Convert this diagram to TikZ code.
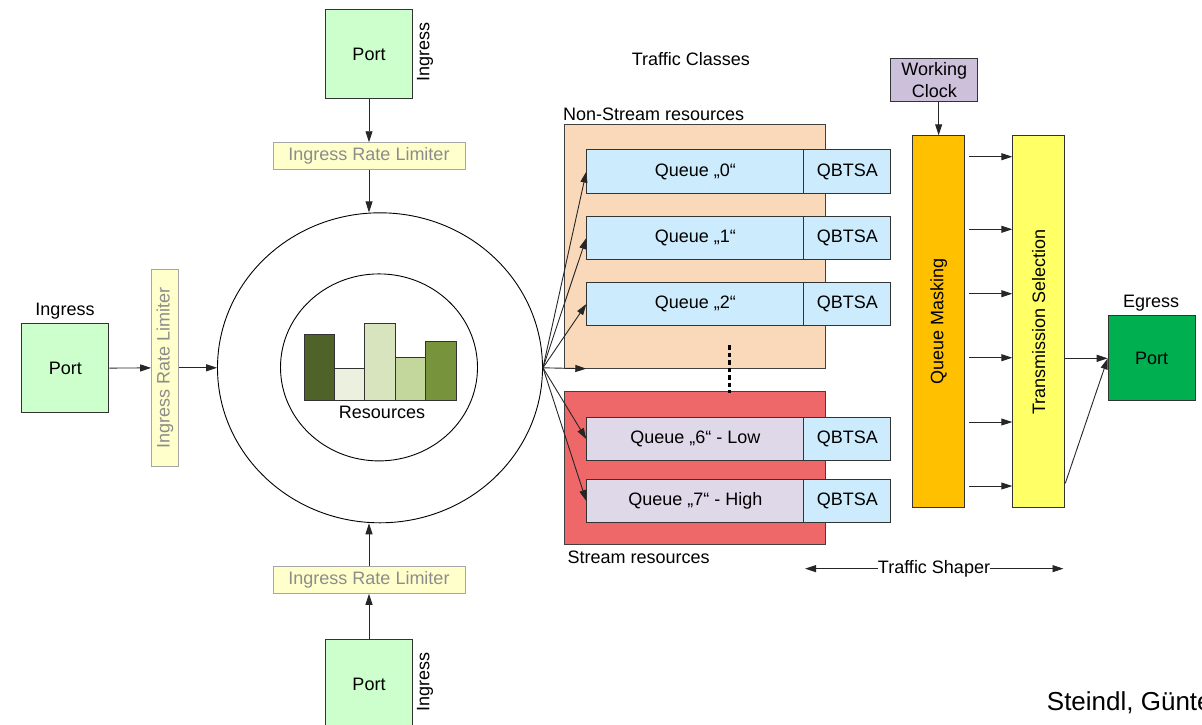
\documentclass[tikz,border=0pt]{standalone}
\usepackage{fontspec}
\setmainfont{Liberation Sans}
\usetikzlibrary{arrows.meta,shapes.geometric,calc}
\definecolor{portgreen}{HTML}{CCFFCC}
\definecolor{egreen}{HTML}{00B050}
\definecolor{limfill}{HTML}{FFFFCC}
\definecolor{limborder}{HTML}{A6A6A6}
\definecolor{limtext}{HTML}{8C8C8C}
\definecolor{nsfill}{HTML}{FAD8BA}
\definecolor{sfill}{HTML}{EF6869}
\definecolor{qblue}{HTML}{CCECFD}
\definecolor{qlav}{HTML}{DED8E8}
\definecolor{clockfill}{HTML}{CCC0DA}
\definecolor{qmfill}{HTML}{FFC000}
\definecolor{tsfill}{HTML}{FFFF66}
\definecolor{barA}{HTML}{4F6228}
\definecolor{barB}{HTML}{EBF1DE}
\definecolor{barC}{HTML}{D7E4BD}
\definecolor{barD}{HTML}{C3D69B}
\definecolor{barE}{HTML}{77933C}
\begin{document}
\begin{tikzpicture}[x=1pt,y=-1pt,
  every node/.style={font=\fontsize{18}{22}\selectfont, inner sep=0pt},
  box/.style={draw=black!80, line width=1pt, anchor=north west, align=center},
  portbox/.style={box, fill=portgreen, minimum width=87pt, minimum height=89pt},
  limbox/.style={draw=limborder, fill=limfill, text=limtext, line width=1pt},
  queuebox/.style={box, fill=qblue, minimum width=217pt, minimum height=43.7pt},
  qbtsabox/.style={box, fill=qblue, minimum width=87pt, minimum height=43.7pt},
  conn/.style={draw=black!85, line width=0.9pt, -{Triangle[length=11pt,width=7pt]}},
  barbox/.style={draw=black!80, line width=0.9pt},
]
\useasboundingbox (0,0) rectangle (1202,724);
\clip (0,0) rectangle (1202,724);

% ---- ports & limiters ----
\node[portbox] (pTop) at (325,9) {Port};
\node (ingTop) at (425,52) {\rotatebox{90}{Ingress}};
\node[limbox, minimum width=192pt, minimum height=26.5pt] (lTop) at (369,156) {Ingress Rate Limiter};

\node[portbox] (pBot) at (325,639) {Port};
\node (ingBot) at (425,682) {\rotatebox{90}{Ingress}};
\node[limbox, minimum width=192pt, minimum height=26.5pt] (lBot) at (369,580) {Ingress Rate Limiter};

\node[portbox] (pLeft) at (21.3,323.3) {Port};
\node[anchor=base] (ingLeft) at (65,315) {Ingress};
\node[limbox, minimum width=26.7pt, minimum height=197pt] (lLeft) at (165,367.8) {\rotatebox{90}{Ingress Rate Limiter}};

% ---- resources circle ----
\node[draw=black, ellipse, line width=0.9pt, minimum width=325pt, minimum height=310pt] (outer) at (380,367.8) {};
\node[draw=black, ellipse, line width=0.9pt, minimum width=197pt, minimum height=187pt] (inner) at (379,367.4) {};
\draw[barbox, fill=barA] (304,334.3) rectangle (334.3,400.7);
\draw[barbox, fill=barB] (334.3,368) rectangle (364.7,400.7);
\draw[barbox, fill=barC] (364.7,323.7) rectangle (395.3,400.7);
\draw[barbox, fill=barD] (395.3,357) rectangle (425.3,400.7);
\draw[barbox, fill=barE] (425.3,341.7) rectangle (456,400.7);
\node (res) at (382,412) {Resources};

% ---- traffic classes ----
\node[anchor=base] (tc) at (690.8,65) {Traffic Classes};
\node[box, fill=nsfill, draw=black!75, minimum width=261pt, minimum height=243.4pt] (ns) at (564.3,124.3) {};
\node[anchor=base west] (nsl) at (563,120) {Non-Stream resources};
\node[box, fill=sfill, draw=black!75, minimum width=261pt, minimum height=153.3pt] (st) at (564.3,390.7) {};
\node[anchor=base west] (stl) at (567.5,563) {Stream resources};

\node[queuebox] (q0) at (586.3,149.3) {Queue „0“};
\node[qbtsabox] (b0) at (803.3,149.3) {QBTSA};
\node[queuebox] (q1) at (586.3,215.7) {Queue „1“};
\node[qbtsabox] (b1) at (803.3,215.7) {QBTSA};
\node[queuebox] (q2) at (586.3,281.7) {Queue „2“};
\node[qbtsabox] (b2) at (803.3,281.7) {QBTSA};
\node[queuebox, fill=qlav] (q6) at (586.3,416.7) {Queue „6“ - Low};
\node[qbtsabox] (b6) at (803.3,416.7) {QBTSA};
\node[queuebox, fill=qlav] (q7) at (586.3,478.7) {Queue „7“ - High};
\node[qbtsabox] (b7) at (803.3,478.7) {QBTSA};

\draw[line width=2.6pt, dash pattern=on 4.5pt off 3pt] (729.3,345) -- (729.3,393);

% ---- shaper ----
\node[box, fill=clockfill, minimum width=87pt, minimum height=42.7pt] (clock) at (890.3,58.3) {Working\\Clock};
\node[box, fill=qmfill, minimum width=52.3pt, minimum height=372pt] (qm) at (912,135.3) {\rotatebox{90}{Queue Masking}};
\node[box, fill=tsfill, minimum width=52pt, minimum height=372pt] (ts) at (1012.3,135.3) {\rotatebox{90}{Transmission Selection}};
\node[box, fill=egreen, minimum width=87pt, minimum height=85pt] (pEg) at (1107.7,315.3) {Port};
\node[anchor=base] (egl) at (1151,307.3) {Egress};

\node[anchor=base] (tsh) at (934,573.3) {Traffic Shaper};
\coordinate (tsL) at (805,567);
\coordinate (tsR) at (1063.5,567);

\node[anchor=base west, font=\fontsize{26}{30}\selectfont] (auth) at (1046.7,710) {Steindl, Günter};

% ---- connectors ----
\draw[conn] (pTop) -- (lTop);
\draw[conn] (lTop.south) -- (lTop.south |- outer.north);
\draw[conn] (pBot) -- (lBot);
\draw[conn] (lBot.north) -- (lBot.north |- outer.south);
\draw[conn] (pLeft) -- (lLeft);
\draw[conn] (lLeft) -- (outer);

\draw[conn] (outer.east) -- (q0.west);
\draw[conn] (outer.east) -- (q1.west);
\draw[conn] (outer.east) -- (q2.west);
\draw[conn] (outer.east) -- (q2.west |- ns.south);
\draw[conn] (outer.east) -- (q6.west);
\draw[conn] (outer.east) -- (q7.west);

\draw[conn] (qm.north |- clock.south) -- (qm.north);
\foreach \dy in {21.4,94,158.4,222.4,286.7,350.7}
  \draw[conn] ($(qm.north east)+(4,\dy)$) -- ($(ts.north west)+(0,\dy)$);
\draw[conn] (ts.east |- pEg.west) -- (pEg.west);
\draw[conn] ($(ts.north east)+(0,348)$) -- (pEg.west);

\draw[conn] (tsh.west) -- (tsh.west -| tsL);
\draw[conn] (tsh.east) -- (tsh.east -| tsR);
\end{tikzpicture}
\end{document}
